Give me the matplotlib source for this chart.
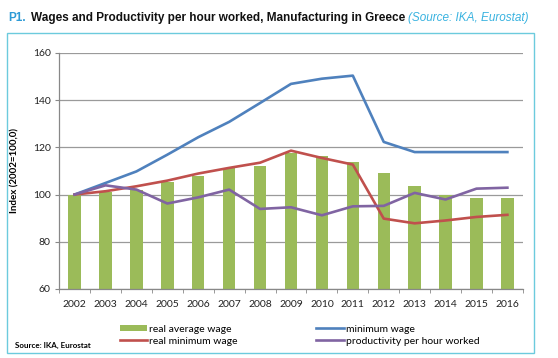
import matplotlib.pyplot as plt
import matplotlib.patches as mpatches
import numpy as np

years = ['2002', '2003', '2004', '2005', '2006', '2007', '2008', '2009',
         '2010', '2011', '2012', '2013', '2014', '2015', '2016']
real_avg_wage = [100.0, 101.1, 101.8, 105.3, 107.7, 111.1, 112.0, 117.6,
                 116.5, 113.8, 109.2, 103.6, 99.8, 98.6, 98.7]
minimum_wage = [100.0, 104.9, 109.8, 116.9, 124.3, 130.8, 138.8, 146.9,
                149.1, 150.4, 122.3, 118.0, 118.0, 118.0, 118.0]
real_min_wage = [100.0, 101.4, 103.5, 105.9, 108.9, 111.3, 113.5, 118.6,
                 115.5, 112.7, 89.8, 87.8, 89.0, 90.5, 91.4]
productivity = [100.0, 103.9, 102.1, 96.2, 98.8, 102.1, 93.9, 94.6,
                91.2, 95.0, 95.2, 100.7, 97.9, 102.5, 102.9]

plt.rcParams['font.family'] = ['Lato', 'DejaVu Sans']

fig = plt.figure(figsize=(5.58, 3.58), dpi=100)
ax = fig.add_axes([0.106, 0.193, 0.831, 0.659])

x = np.arange(len(years))
bars = ax.bar(x, real_avg_wage, width=0.4, color='#9BBB59', zorder=2)
l_min, = ax.plot(x, minimum_wage, color='#4F81BD', lw=1.9, zorder=3)
l_real, = ax.plot(x, real_min_wage, color='#C0504D', lw=1.9, zorder=3)
l_prod, = ax.plot(x, productivity, color='#8064A2', lw=1.9, zorder=3)

ax.set_ylim(60, 160)
ax.set_yticks(range(60, 161, 20))
ax.set_xlim(-0.5, len(years) - 0.5)
ax.set_xticks(x)
ax.set_xticklabels(years)
ax.set_xticks(np.arange(-0.5, len(years), 1), minor=True)
ax.tick_params(axis='x', which='major', length=0, pad=8, labelsize=7.5, colors='#222222')
ax.tick_params(axis='x', which='minor', length=3, color='#888888')
ax.tick_params(axis='y', length=3, color='#888888', labelsize=7.5, labelcolor='#222222', pad=3)
ax.grid(axis='y', color='#9a9a9a', lw=0.9, zorder=0)
for s in ['top', 'right']:
    ax.spines[s].set_visible(False)
for s in ['left', 'bottom']:
    ax.spines[s].set_color('#888888')
    ax.spines[s].set_linewidth(0.9)
ax.set_ylabel('Index (2002=100,0)', fontsize=7, fontweight='bold', labelpad=10)

fig.legend([bars, l_real, l_min, l_prod],
           ['real average wage', 'real minimum wage', 'minimum wage', 'productivity per hour worked'],
           ncol=2, loc='upper left', bbox_to_anchor=(0.205, 0.108), frameon=False,
           fontsize=7.5, handlelength=2.6, handleheight=0.5, handletextpad=0.2,
           columnspacing=7.6, labelspacing=0.3, borderpad=0)

fig.text(0.027, 0.034, 'Source: IKA, Eurostat', fontsize=5.8, fontweight='bold', va='center')

# cyan frame around the chart
fig.patches.append(mpatches.Rectangle((0.0131, 0.0148), 0.944, 0.894, transform=fig.transFigure,
                                      fill=False, edgecolor='#6CCBDD', lw=1.0))

# title
fig.text(0.015, 0.949, 'P1.', fontsize=8.5, fontweight='bold', color='#2E9BD6',
         family='Liberation Sans', va='center')
fig.text(0.055, 0.949, 'Wages and Productivity per hour worked, Manufacturing in Greece',
         fontsize=8.5, fontweight='bold', color='#111111', family='Liberation Sans', va='center')
fig.text(0.731, 0.949, '(Source: IKA, Eurostat)', fontsize=8.5, style='italic',
         color='#3AB3E0', family='Liberation Sans', va='center')

fig.savefig('out.png', dpi=100)
